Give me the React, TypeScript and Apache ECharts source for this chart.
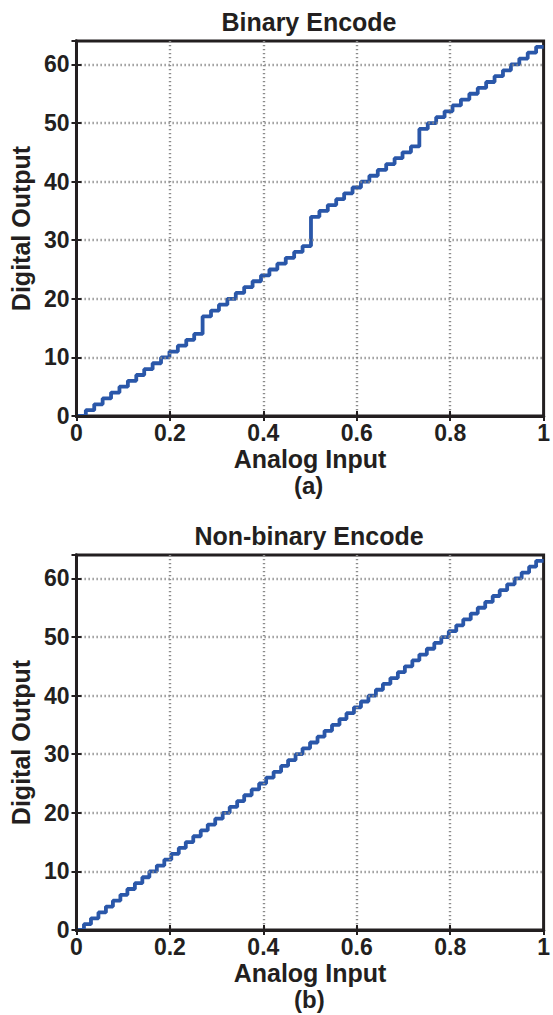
import React, { useEffect, useRef } from "react";
import * as echarts from "echarts";

// Binary encode: output codes present and the analog input where each begins
const binaryCodes = [
  0, 1, 2, 3, 4, 5, 6, 7, 8, 9, 10, 11, 12, 13, 14,
  17, 18, 19, 20, 21, 22, 23, 24, 25, 26, 27, 28, 29,
  34, 35, 36, 37, 38, 39, 40, 41, 42, 43, 44, 45, 46,
  49, 50, 51, 52, 53, 54, 55, 56, 57, 58, 59, 60, 61, 62, 63,
];
const binaryStarts = [
  0, 0.02, 0.038, 0.056, 0.074, 0.092, 0.11, 0.128, 0.145, 0.163, 0.181, 0.199, 0.217, 0.235, 0.252,
  0.27, 0.288, 0.305, 0.323, 0.341, 0.359, 0.377, 0.395, 0.413, 0.43, 0.448, 0.466, 0.484,
  0.502, 0.52, 0.538, 0.556, 0.573, 0.591, 0.609, 0.627, 0.645, 0.663, 0.681, 0.698, 0.716,
  0.734, 0.752, 0.77, 0.788, 0.805, 0.823, 0.841, 0.859, 0.877, 0.895, 0.913, 0.93, 0.948, 0.966, 0.984,
];

// Non-binary encode: every code 0..63
const nonBinaryCodes = [
  0, 1, 2, 3, 4, 5, 6, 7, 8, 9, 10, 11, 12, 13, 14, 15,
  16, 17, 18, 19, 20, 21, 22, 23, 24, 25, 26, 27, 28, 29, 30, 31,
  32, 33, 34, 35, 36, 37, 38, 39, 40, 41, 42, 43, 44, 45, 46, 47,
  48, 49, 50, 51, 52, 53, 54, 55, 56, 57, 58, 59, 60, 61, 62, 63,
];
const nonBinaryStarts = [
  0, 0.016, 0.031, 0.047, 0.063, 0.078, 0.094, 0.109, 0.125, 0.141, 0.156, 0.172, 0.188, 0.203, 0.219, 0.234,
  0.25, 0.266, 0.281, 0.297, 0.313, 0.328, 0.344, 0.359, 0.375, 0.391, 0.406, 0.422, 0.438, 0.453, 0.469, 0.484,
  0.5, 0.516, 0.531, 0.547, 0.563, 0.578, 0.594, 0.609, 0.625, 0.641, 0.656, 0.672, 0.688, 0.703, 0.719, 0.734,
  0.75, 0.766, 0.781, 0.797, 0.813, 0.828, 0.844, 0.859, 0.875, 0.891, 0.906, 0.922, 0.938, 0.953, 0.969, 0.984,
];

const titles = ["Binary Encode", "Non-binary Encode"];
const captions = ["(a)", "(b)"];
const xName = "Analog Input";
const yName = "Digital Output";

const INK = "#231f20";
const GRIDC = "#8c8c8c";
const NONE = "rgba(0,0,0,0)";
const FONT = "'Liberation Sans', Arial, Helvetica, sans-serif";

export default function App() {
  const ref = useRef<HTMLDivElement>(null);

  useEffect(() => {
    if (!ref.current) return;
    const chart = echarts.init(ref.current, undefined, { renderer: "svg" });

    const gridTops = [41, 555];
    const plotH = 375;
    const grids = gridTops.map((t) => ({
      left: 70,
      top: t,
      width: 478,
      height: plotH,
      show: true,
      borderColor: INK,
      borderWidth: 3,
      backgroundColor: "#fff",
    }));

    const dash = { width: 2.4, type: [1.3, 2.7] as any };
    const xGridLine = {
      show: true,
      lineStyle: { color: [NONE, GRIDC, GRIDC, GRIDC, GRIDC, NONE], ...dash },
    };
    const yGridLine = {
      show: true,
      lineStyle: { color: [NONE, GRIDC, GRIDC, GRIDC, GRIDC, GRIDC, GRIDC, NONE], ...dash },
    };
    const tick = { show: true, inside: true, length: 5, lineStyle: { color: INK, width: 2 } };
    const line = { show: true, lineStyle: { color: INK, width: 3 } };
    const label = { fontSize: 23, fontWeight: "bold" as const, color: INK, fontFamily: FONT };
    const nameStyle = { fontSize: 25, fontWeight: "bold" as const, color: INK, fontFamily: FONT };

    const xAxes: any[] = [];
    const yAxes: any[] = [];
    [0, 1].forEach((g) => {
      xAxes.push({
        type: "value",
        gridIndex: g,
        position: "bottom",
        min: 0,
        max: 1,
        interval: 0.2,
        z: 5,
        axisLine: line,
        axisTick: tick,
        axisLabel: { ...label, margin: 5 },
        splitLine: xGridLine,
        name: xName,
        nameLocation: "middle",
        nameGap: 30,
        nameTextStyle: nameStyle,
      });
      xAxes.push({
        type: "value",
        gridIndex: g,
        position: "top",
        min: 0,
        max: 1,
        interval: 0.2,
        z: 5,
        axisLine: line,
        axisTick: tick,
        axisLabel: { show: false },
        splitLine: { show: false },
      });
      yAxes.push({
        type: "value",
        gridIndex: g,
        position: "left",
        min: 0,
        max: 64,
        interval: 10,
        z: 5,
        axisLine: line,
        axisTick: tick,
        axisLabel: { ...label, margin: 7, showMaxLabel: false },
        splitLine: yGridLine,
        name: yName,
        nameLocation: "middle",
        nameGap: 38,
        nameTextStyle: nameStyle,
      });
      yAxes.push({
        type: "value",
        gridIndex: g,
        position: "right",
        min: 0,
        max: 64,
        interval: 10,
        z: 5,
        axisLine: line,
        axisTick: tick,
        axisLabel: { show: false },
        splitLine: { show: false },
      });
    });

    const toSteps = (starts: number[], codes: number[]) => {
      const pts = starts.map((s, i) => [s, codes[i]]);
      pts.push([1, codes[codes.length - 1]]);
      return pts;
    };

    const seriesStyle = { color: "#2a57a9", width: 3.8 };

    chart.setOption({
      animation: false,
      backgroundColor: "#fff",
      title: titles.map((t, i) => ({
        text: t,
        left: 309,
        top: gridTops[i] - 32,
        textAlign: "center",
        padding: 0,
        textStyle: { fontSize: 25, fontWeight: "bold", color: INK, fontFamily: FONT },
      })),
      grid: grids,
      xAxis: xAxes,
      yAxis: yAxes,
      graphic: captions.map((c, i) => ({
        type: "text",
        left: 294,
        top: gridTops[i] + plotH + 57,
        style: { text: c, fontSize: 24, fontWeight: "bold", fill: INK, fontFamily: FONT },
      })),
      series: [
        {
          type: "line",
          xAxisIndex: 0,
          yAxisIndex: 0,
          step: "end",
          showSymbol: false,
          lineStyle: seriesStyle,
          data: toSteps(binaryStarts, binaryCodes),
        },
        {
          type: "line",
          xAxisIndex: 2,
          yAxisIndex: 2,
          step: "end",
          showSymbol: false,
          lineStyle: seriesStyle,
          data: toSteps(nonBinaryStarts, nonBinaryCodes),
        },
      ],
    });

    return () => chart.dispose();
  }, []);

  return (
    <div
      ref={ref}
      style={{ position: "absolute", left: 0, top: 0, width: 553, height: 1015, background: "#fff" }}
    />
  );
}
